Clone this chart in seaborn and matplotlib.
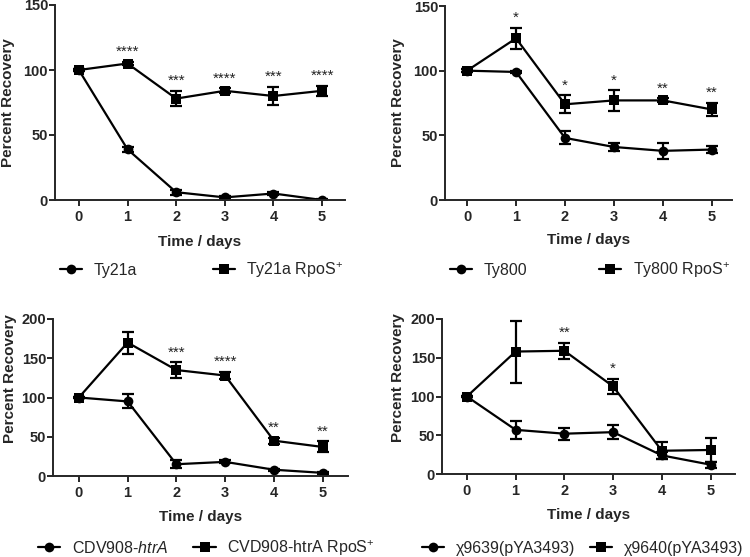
import matplotlib
matplotlib.use('Agg')
import numpy as np
import pandas as pd
import matplotlib.pyplot as plt
import seaborn as sns

days = [0, 1, 2, 3, 4, 5]

# panel A
ty21a = [100, 39, 6, 2, 5, 0]
ty21a_err = [1, 2, 2, 1, 1.5, 0.5]
ty21a_rpos = [100, 105, 78, 84, 80, 84]
ty21a_rpos_err = [1, 1.5, 6, 2, 7, 4]
stars_a = ['', '****', '***', '****', '***', '****']

# panel B
ty800 = [100, 99, 48, 41, 38, 39]
ty800_err = [1, 1, 5, 3, 6, 3]
ty800_rpos = [100, 125, 74, 77, 77, 70]
ty800_rpos_err = [1, 8, 7, 8, 1.5, 5]
stars_b = ['', '*', '*', '*', '**', '**']

# panel C
cvd = [100, 95, 15, 18, 8, 4]
cvd_err = [1, 9, 5, 2, 1.5, 1.5]
cvd_rpos = [100, 170, 135, 128, 45, 37]
cvd_rpos_err = [1, 14, 10, 5, 4, 7]
stars_c = ['', '', '***', '****', '**', '**']

# panel D
chi9639 = [100, 57, 52, 54, 24, 12]
chi9639_err = [1, 12, 8, 9, 5, 4]
chi9640 = [100, 158, 159, 113, 30, 31]
chi9640_err = [1, 40, 10, 10, 11, 15]
stars_d = ['', '', '**', '*', '', '']

sns.set_style('ticks')
plt.rcParams['font.family'] = ['Liberation Sans', 'DejaVu Sans']
plt.rcParams['mathtext.fontset'] = 'custom'
plt.rcParams['mathtext.rm'] = 'Liberation Sans'
plt.rcParams['mathtext.it'] = 'Liberation Sans:italic'

W, H = 750, 557
fig = plt.figure(figsize=(7.5, 5.57), dpi=100)


def add_axes(l, r, t, b):
    return fig.add_axes([l / W, 1 - b / H, (r - l) / W, (b - t) / H])


panels = [
    dict(rect=(55, 345, 5, 200), xlim=(-0.49, 5.47), ylim=150, yt=[0, 50, 100, 150],
         a=ty21a, ae=ty21a_err, b=ty21a_rpos, be=ty21a_rpos_err, stars=stars_a,
         la='Ty21a', lb='Ty21a RpoS$^{+}$', leg=(60, 270), cs=4.75,
         ylc=(-0.138, 0.5), xlc=-0.18),
    dict(rect=(445, 732, 6, 200), xlim=(-0.45, 5.41), ylim=150, yt=[0, 50, 100, 150],
         a=ty800, ae=ty800_err, b=ty800_rpos, be=ty800_rpos_err, stars=stars_b,
         la='Ty800', lb='Ty800 RpoS$^{+}$', leg=(450, 270), cs=4.5,
         ylc=(-0.139, 0.5), xlc=-0.17),
    dict(rect=(53, 348, 319, 476), xlim=(-0.53, 5.52), ylim=200, yt=[0, 50, 100, 150, 200],
         a=cvd, ae=cvd_err, b=cvd_rpos, be=cvd_rpos_err, stars=stars_c,
         la='CDV908-$\\it{htrA}$', lb='CVD908-htrA RpoS$^{+}$', leg=(38, 548), cs=1.6,
         ylc=(-0.122, 0.62), xlc=-0.217),
    dict(rect=(442, 735, 319, 474), xlim=(-0.51, 5.5), ylim=200, yt=[0, 50, 100, 150, 200],
         a=chi9639, ae=chi9639_err, b=chi9640, be=chi9640_err, stars=stars_d,
         la='χ9639(pYA3493)', lb='χ9640(pYA3493)', leg=(422, 548), cs=0.95,
         ylc=(-0.126, 0.62), xlc=-0.219),
]

for p in panels:
    ax = add_axes(*p['rect'])
    df = pd.DataFrame({'day': days * 2,
                       'value': p['a'] + p['b'],
                       'strain': [p['la']] * 6 + [p['lb']] * 6})
    sns.lineplot(data=df, x='day', y='value', hue='strain', style='strain',
                 palette=['black', 'black'], markers=['o', 's'], dashes=False,
                 markersize=7, linewidth=1.6, markeredgewidth=0, ax=ax, legend=True)
    ax.errorbar(days, p['a'], yerr=p['ae'], fmt='none', ecolor='black',
                elinewidth=1.6, capsize=4, capthick=1.6)
    ax.errorbar(days, p['b'], yerr=p['be'], fmt='none', ecolor='black',
                elinewidth=1.6, capsize=4, capthick=1.6)
    for d, v, e, s in zip(days, p['b'], p['be'], p['stars']):
        if s:
            ax.annotate(s, (d, v + e), xytext=(0, 2), textcoords='offset points',
                        ha='center', va='bottom', fontsize=11, color='#222222')
    ax.set_xlim(*p['xlim'])
    ax.set_ylim(0, p['ylim'])
    ax.set_xticks(days)
    ax.set_yticks(p['yt'])
    ax.tick_params(labelsize=10.5, width=1.4, length=4)
    ax.tick_params(axis='y', pad=1)
    ax.tick_params(axis='x', pad=3)
    for lab in ax.get_xticklabels() + ax.get_yticklabels():
        lab.set_fontweight('bold')
    for sp in ['left', 'bottom']:
        ax.spines[sp].set_linewidth(1.4)
    sns.despine(ax=ax)
    ax.set_xlabel('Time / days', fontsize=11, fontweight='bold')
    ax.set_ylabel('Percent Recovery', fontsize=11, fontweight='bold')
    ax.yaxis.set_label_coords(*p['ylc'])
    ax.xaxis.set_label_coords(0.5, p['xlc'])
    ax.legend(loc='center left', bbox_to_anchor=(p['leg'][0] / W, 1 - p['leg'][1] / H),
              bbox_transform=fig.transFigure, ncol=2, frameon=False,
              fontsize=11.5, handlelength=1.4, columnspacing=p['cs'],
              handletextpad=0.7, borderpad=0, borderaxespad=0)

fig.savefig('out.png', dpi=100)
